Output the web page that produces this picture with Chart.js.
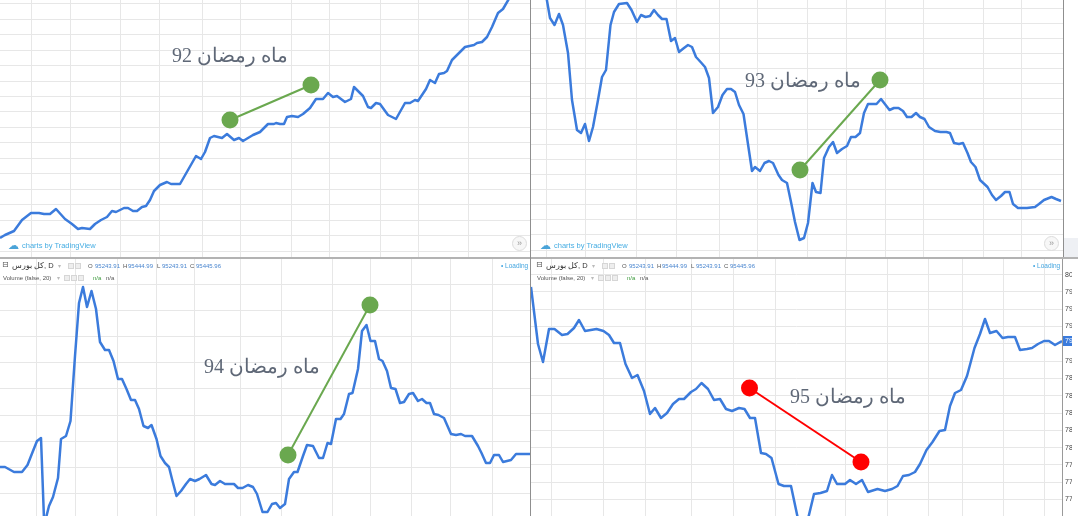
<!DOCTYPE html>
<html><head><meta charset="utf-8">
<script src="https://cdn.jsdelivr.net/npm/chart.js@4"></script>
<style>
html,body{margin:0;padding:0;background:#fff;width:1078px;height:516px;overflow:hidden;font-family:"Liberation Sans",Arial,sans-serif}
.panel{position:absolute;overflow:hidden}
.panel canvas{position:absolute;left:0;top:0}
.lbl{position:absolute;font-family:"Liberation Serif","Times New Roman",serif;font-size:20px;color:#5f6877;white-space:nowrap;direction:rtl;transform:translate(-50%,-50%)}
.ft{position:absolute;top:240px;font-size:7.5px;color:#48aee3;white-space:nowrap;line-height:12px}
.ft .cl{font-family:"DejaVu Sans";font-size:11px;color:#4aa3d8;vertical-align:-1px;margin-right:3px}
.btn{position:absolute;top:236px;width:13px;height:13px;border:1px solid #dcdcdc;border-radius:50%;background:#f7f7f7;color:#999;font-size:9px;line-height:12px;text-align:center}
.hdr{position:absolute;top:0;left:0;width:540px;height:30px}
.hdr span{position:absolute;white-space:nowrap;font-size:6px;line-height:8px;color:#555}
.hdr .n{color:#4a86cf}
.hdr .b{position:absolute;width:4px;height:4px;border:1px solid #d6d6d6;background:#eee}
.vdiv{position:absolute;background:#8f8f8f}
</style></head>
<body>
<div class="panel" id="p1" style="left:0;top:0;width:530px;height:257px">
  <canvas id="c1" width="530" height="257"></canvas>
  <div class="lbl" style="left:230px;top:55px">ماه رمضان 92</div>
  <div class="ft" style="left:8px"><span class="cl">☁</span>charts by TradingView</div>
  <div class="btn" style="left:512px">»</div>
</div>
<div class="panel" id="p2" style="left:531px;top:0;width:532px;height:257px">
  <canvas id="c2" width="532" height="257"></canvas>
  <div class="lbl" style="left:272px;top:80px">ماه رمضان 93</div>
  <div class="ft" style="left:9px"><span class="cl">☁</span>charts by TradingView</div>
  <div class="btn" style="left:513px">»</div>
</div>
<div class="vdiv" style="left:1063px;top:0;width:1px;height:257px"></div>
<div style="position:absolute;left:1064px;top:238px;width:14px;height:19px;background:#eef0f4"></div>
<div class="panel" id="p3" style="left:0;top:259px;width:530px;height:257px">
  <canvas id="c3" width="530" height="257"></canvas>
  <div class="lbl" style="left:262px;top:107px">ماه رمضان 94</div>
  <div class="hdr" style="left:0">
    <span style="left:2px;top:2px;font-size:8px;font-family:'DejaVu Sans'">⊟</span>
    <span style="left:12px;top:3px;font-size:7.5px;color:#333">کل بورس, D</span>
    <span style="left:58px;top:3px;color:#bbb">▾</span>
    <i class="b" style="left:68px;top:4px"></i><i class="b" style="left:75px;top:4px"></i>
    <span style="left:88px;top:3px">O</span><span class="n" style="left:95px;top:3px">95243.91</span>
    <span style="left:123px;top:3px">H</span><span class="n" style="left:128px;top:3px">95444.99</span>
    <span style="left:157px;top:3px">L</span><span class="n" style="left:162px;top:3px">95243.91</span>
    <span style="left:190px;top:3px">C</span><span class="n" style="left:196px;top:3px">95445.96</span>
    <span style="left:3px;top:15px">Volume (false, 20)</span>
    <span style="left:57px;top:15px;color:#bbb">▾</span>
    <i class="b" style="left:64px;top:16px"></i><i class="b" style="left:71px;top:16px"></i><i class="b" style="left:78px;top:16px"></i>
    <span style="left:93px;top:15px;color:#3c9a3c">n/a</span><span style="left:106px;top:15px">n/a</span>
    <span style="left:501px;top:3px;color:#45a6e0;font-size:6.5px">• Loading</span>
  </div>
</div>
<div class="panel" id="p4" style="left:531px;top:259px;width:541px;height:257px">
  <canvas id="c4" width="541" height="257"></canvas>
  <div class="lbl" style="left:317px;top:137px">ماه رمضان 95</div>
  <div class="hdr" style="left:3px">
    <span style="left:2px;top:2px;font-size:8px;font-family:'DejaVu Sans'">⊟</span>
    <span style="left:12px;top:3px;font-size:7.5px;color:#333">کل بورس, D</span>
    <span style="left:58px;top:3px;color:#bbb">▾</span>
    <i class="b" style="left:68px;top:4px"></i><i class="b" style="left:75px;top:4px"></i>
    <span style="left:88px;top:3px">O</span><span class="n" style="left:95px;top:3px">95243.91</span>
    <span style="left:123px;top:3px">H</span><span class="n" style="left:128px;top:3px">95444.99</span>
    <span style="left:157px;top:3px">L</span><span class="n" style="left:162px;top:3px">95243.91</span>
    <span style="left:190px;top:3px">C</span><span class="n" style="left:196px;top:3px">95445.96</span>
    <span style="left:3px;top:15px">Volume (false, 20)</span>
    <span style="left:57px;top:15px;color:#bbb">▾</span>
    <i class="b" style="left:64px;top:16px"></i><i class="b" style="left:71px;top:16px"></i><i class="b" style="left:78px;top:16px"></i>
    <span style="left:93px;top:15px;color:#3c9a3c">n/a</span><span style="left:106px;top:15px">n/a</span>
    <span style="left:499px;top:3px;color:#45a6e0;font-size:6.5px">• Loading</span>
  </div>
</div>
<div style="position:absolute;left:0;top:257px;width:1078px;height:2px;background:#b3b3b3"></div>
<div class="vdiv" style="left:530px;top:0;width:1px;height:516px"></div>

<script>
// ---- Ramadan 92 (trading day offset, index level) ----
const days92 = [0,5,14,22,31,39,44,50,56,65,72,78,82,90,95,101,107,112,116,124,128,133,137,142,146,150,154,160,167,171,180,188,196,201,205,210,214,222,227,234,239,243,248,253,260,268,274,276,280,284,287,292,298,303,310,316,323,328,333,337,345,351,354,363,368,371,376,380,388,396,405,410,415,418,426,430,435,439,444,447,452,458,465,474,477,482,487,492,498,503,510];
const level92 = [19,22,26,37,44,44,43,43,48,38,33,28,29,28,33,37,40,46,45,49,49,46,46,50,51,57,66,72,75,73,73,87,101,98,105,119,121,119,123,117,119,116,119,122,125,133,133,134,133,133,140,141,140,143,149,158,158,164,160,161,155,158,170,161,150,149,154,153,142,138,154,154,157,156,168,177,174,183,184,186,197,203,210,212,214,215,220,230,244,248,260];
const markDays92 = [230,311];
const markLevel92 = [137,172];

// ---- Ramadan 93 ----
const days93 = [15,19,23.5,28,32,37,41,46,50,54,58,62,67,71,75,79.5,83,88,96,100.5,106,110,114.5,119,123,127,131,135.5,140,144,148,153,157,161,165,170.5,174,178,182,187,191.5,196,200,204,208,212.5,221,224,229,233.5,238,242,247.5,251,256,260,264,268.5,273,277,281.5,285,289.5,293,298,302,306,311,316,320,324.5,329,333,337,345.5,350,358.5,363,367.5,372,376,380.5,385,389,393.5,398,404,409.5,415.5,419,423,428,432,436.5,440,444.5,449,456.5,461,465,470,474,478.5,482,487,496,504,508,513,520.5,525,530];
const level93 = [262,239,232,243,232,204,157,127,124,133,116,130,157,180,187,232,245,253,254,247,235,242,240,241,247,242,238,238,216,219,205,209,212,210,200,194,190,179,144,150,162,168,168,165,152,143,86,90,86,94,96,94,82,77,74,55,35,17,19,34,74,65,64,99,110,115,104,108,111,120,120,124,144,153,153,158,147,149,149,146,140,140,144,140,138,130,126,125,125,124,114,113,114,104,95,90,77,70,62,57,61,65,65,53,49,49,50,53,57,60,58,56];
const markDays93 = [269,349];
const markLevel93 = [87,177];

// ---- Ramadan 94 ----
const days94 = [0,5,14,22,27.5,33,37,41,44,46,49,53,58,61,66,70.5,75,79,83,87,91.5,96,100,105,109,113.5,118,122,126.5,131,135,139,143.5,148,151.5,156.5,160.5,165,169,172,176.5,181,186,190,195,199.5,206,211.5,215,220,225,234,238,242.5,248,253,257,262.5,267.5,272,276,280,285,289,294,297.5,303,307,313,319,323,327.5,331,336,340.5,344,349,352.5,358,362,366.5,370.5,375,379,382.5,387,391,395.5,400,404,409,413,418,422,426.5,430,434,438.5,444,451,456,461,465,472,478,481.5,486,490,494,499,503,511,516,530];
const level94 = [49,49,44,44,51,65,75,78,-3,-2,10,19,38,77,80,95,160,213,229,209,225,207,174,166,166,155,137,137,127,116,116,107,90,88,91,77,60,53,49,37,20,25,32,37,35,37,41,32,31,35,32,32,28,28,31,29,22,4,4,12,13,8,12,37,44,44,60,71,70,58,58,73,72,97,97,102,122,123,147,185,191,175,175,157,155,145,128,127,113,114,122,123,115,117,113,113,102,101,98,82,81,82,80,80,70,63,53,53,61,61,54,56,62,62];
const markDays94 = [288,370];
const markLevel94 = [61,211];

// ---- Ramadan 95 ----
const days95 = [0,7,12,18,23.5,31,36.5,43,48,54,65.5,72.5,78,83,89,94.5,101,106.5,113,119,124,130,136,142,148,153,160,165,170.5,177,183,189,195,201,208,213.5,219,224,230,235,240.5,247.5,253,260,267,277,283,289.5,296,301,306,314,319,325,331,337,346.5,354,361,366.5,372,378,384,389,395.5,401.5,408.5,414,419,424,430,436,443.5,449,454,459,465.5,471.5,477,484,489,496,501,507,513,518,524,531];
const level95 = [229,172,154,187,187,181,182,188,196,185,187,185,181,173,173,152,138,141,125,102,108,98,103,112,117,117,124,127,133,127,116,117,107,105,108,107,98,98,63,62,58,32,30,30,-3,-3,22,23,25,41,32,32,36,32,36,24,27,25,27,30,40,41,44,52,66,74,85,86,110,123,126,140,168,182,197,183,185,178,179,179,166,167,168,172,175,175,171,175];
const markDays95 = [218.5,330];
const markLevel95 = [128,54];
const priceTicks95 = ['77400','77600','77800','78000','78200','78400','78600','78800','79000','79200','79400','79600','79800','80000'];

// ---- chart styling ----
const LINE = '#3b7bdc', GREEN = '#6aa84f', RED = '#ff0000', GRID = '#e7e7e7';
const toXY = (xs, ys) => xs.map((x, i) => ({x, y: ys[i]}));

const lastPriceTag = {
  id: 'lastPriceTag',
  afterDraw(chart, args, opts) {
    if (!opts || !opts.enabled) return;
    const d = chart.data.datasets[0].data;
    const y = chart.scales.y.getPixelForValue(d[d.length - 1].y);
    const ctx = chart.ctx;
    ctx.save();
    ctx.fillStyle = LINE;
    ctx.fillRect(chart.chartArea.right + 1, Math.round(y) - 5, 20, 10);
    ctx.fillStyle = '#fff';
    ctx.font = '7px "Liberation Sans"';
    ctx.textBaseline = 'middle';
    ctx.fillText(opts.label, chart.chartArea.right + 3, y);
    ctx.restore();
  }
};

function makeChart(id, cfg) {
  const yScale = {
    type: 'linear', min: 0, max: 257,
    position: cfg.axisLabels ? 'right' : 'left',
    border: {display: !!cfg.axisLabels, color: '#9a9a9a'},
    grid: {color: GRID, drawTicks: false},
    ticks: {
      display: !!cfg.axisLabels, padding: 3, color: '#444',
      font: {size: 7, family: 'Liberation Sans'},
      callback: (v, i) => cfg.axisLabels ? cfg.axisLabels[i] : ''
    },
    afterBuildTicks: s => { s.ticks = cfg.gridY.map(v => ({value: v})); },
    afterFit: s => { s.width = cfg.axisLabels ? cfg.axisWidth : 0; s.paddingTop = 0; s.paddingBottom = 0; }
  };
  return new Chart(document.getElementById(id), {
    type: 'line',
    data: {
      datasets: [
        {data: cfg.line, borderColor: LINE, borderWidth: 2.5, pointRadius: 0, tension: 0, borderJoinStyle: 'round', order: 2},
        {data: cfg.marks, borderColor: cfg.markColor, backgroundColor: cfg.markColor, borderWidth: 2,
         pointRadius: 8.5, pointBorderWidth: 0, pointBackgroundColor: cfg.markColor, tension: 0, order: 1}
      ]
    },
    options: {
      responsive: false, maintainAspectRatio: false, animation: false, devicePixelRatio: 1, events: [],
      layout: {padding: 0, autoPadding: false},
      plugins: {legend: {display: false}, tooltip: {enabled: false}, lastPriceTag: cfg.tag || {enabled: false}},
      scales: {
        x: {
          type: 'linear', min: 0, max: cfg.xMax,
          border: {display: false}, grid: {color: GRID, drawTicks: false},
          ticks: {display: false},
          afterBuildTicks: s => { s.ticks = cfg.gridX.map(v => ({value: v})); },
          afterFit: s => { s.height = 0; s.paddingLeft = 0; s.paddingRight = 0; }
        },
        y: yScale
      }
    },
    plugins: [lastPriceTag]
  });
}

const range = (start, step, n) => Array.from({length: n}, (_, k) => start + step * k);

makeChart('c1', {
  line: toXY(days92, level92), marks: toXY(markDays92, markLevel92), markColor: GREEN, xMax: 530,
  gridX: [31.5,70,120,159,202,240,291,329,380,418,468.5],
  gridY: range(6, 15.45, 17)
});
makeChart('c2', {
  line: toXY(days93, level93), marks: toXY(markDays93, markLevel93), markColor: GREEN, xMax: 532,
  gridX: [15.8,54.3,105.8,145.3,188,226.5,276.6,315.8,354.3,392.8,452.3,490.8],
  gridY: range(7, 15.125, 17)
});
makeChart('c3', {
  line: toXY(days94, level94), marks: toXY(markDays94, markLevel94), markColor: GREEN, xMax: 530,
  gridX: [36,75.7,117,156.5,194.4,240.8,281.4,332,370.8,411.8,450.6,492],
  gridY: range(22.7, 26.1, 9)
});
makeChart('c4', {
  line: toXY(days95, level95), marks: toXY(markDays95, markLevel95), markColor: RED, xMax: 531,
  gridX: [20,72.5,114.5,160.7,202,244,314,356,397.3,431.3,472.2,513.5],
  gridY: range(16.5, 17.3, 14),
  axisLabels: priceTicks95, axisWidth: 10,
  tag: {enabled: true, label: '79445'}
});
</script>
</body></html>
